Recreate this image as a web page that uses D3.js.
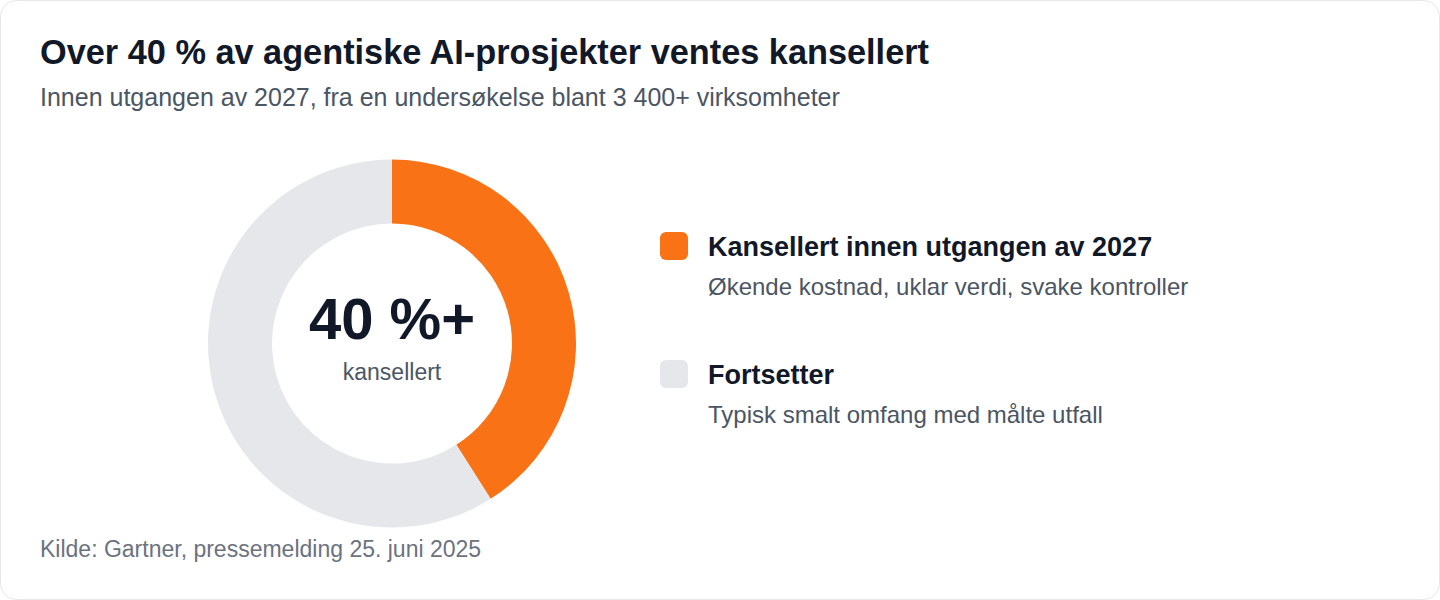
<!DOCTYPE html>
<html>
<head>
<meta charset="utf-8">
<script src="https://cdn.jsdelivr.net/npm/d3@7"></script>
<style>
  html, body { margin: 0; padding: 0; background: #ffffff; }
  svg { display: block; font-family: "Liberation Sans", Arial, Helvetica, sans-serif; }
</style>
</head>
<body>
<svg id="chart"></svg>
<script>
/* data */
var categories = ['Kansellert innen utgangen av 2027', 'Fortsetter'];
var shares = [41, 59];
var descriptions = ['Økende kostnad, uklar verdi, svake kontroller', 'Typisk smalt omfang med målte utfall'];
var centerValue = '40 %+';
var centerLabel = 'kansellert';

var titleText = 'Over 40 % av agentiske AI-prosjekter ventes kansellert';
var subtitleText = 'Innen utgangen av 2027, fra en undersøkelse blant 3 400+ virksomheter';
var sourceText = 'Kilde: Gartner, pressemelding 25. juni 2025';

/* layout */
var width = 1440;
var height = 600;
var cx = 392, cy = 343.5;
var outerR = 184, innerR = 120;

var svg = d3.select('#chart')
    .attr('width', width)
    .attr('height', height);

// card
svg.append('rect')
    .attr('x', 0.5).attr('y', 0.5)
    .attr('width', width - 1).attr('height', height - 1)
    .attr('rx', 16)
    .attr('fill', '#ffffff')
    .attr('stroke', '#e5e7eb')
    .attr('stroke-width', 1);

svg.append('text')
    .attr('x', 40).attr('y', 64)
    .attr('font-size', 34.3).attr('font-weight', 700)
    .attr('fill', '#111827')
    .text(titleText);

svg.append('text')
    .attr('x', 40).attr('y', 106)
    .attr('font-size', 25)
    .attr('fill', '#4b5563')
    .text(subtitleText);

var color = d3.scaleOrdinal()
    .domain(categories)
    .range(['#f97316', '#e5e7eb']);

var pie = d3.pie().sort(null).value(function(d){ return d.value; });
var arc = d3.arc().innerRadius(innerR).outerRadius(outerR);

var slices = categories.map(function(c, i){
    return { name: c, value: shares[i] };
});

var donut = svg.append('g')
    .attr('transform', 'translate(' + cx + ',' + cy + ')');

donut.selectAll('path')
    .data(pie(slices))
    .enter()
    .append('path')
    .attr('d', arc)
    .attr('fill', function(d){ return color(d.data.name); });

donut.append('text')
    .attr('x', 0).attr('y', -5)
    .attr('text-anchor', 'middle')
    .attr('font-size', 58).attr('font-weight', 700)
    .attr('fill', '#111827')
    .text(centerValue);

donut.append('text')
    .attr('x', 0).attr('y', 36.5)
    .attr('text-anchor', 'middle')
    .attr('font-size', 23)
    .attr('fill', '#4b5563')
    .text(centerLabel);

// legend
var legendY = d3.scalePoint()
    .domain(categories)
    .range([232, 360]);

var items = svg.selectAll('g.item')
    .data(categories)
    .enter()
    .append('g')
    .attr('class', 'item')
    .attr('transform', function(d){ return 'translate(660,' + legendY(d) + ')'; });

items.append('rect')
    .attr('width', 28).attr('height', 28)
    .attr('rx', 6)
    .attr('fill', function(d){ return color(d); });

items.append('text')
    .attr('x', 48).attr('y', 24)
    .attr('font-size', 27).attr('font-weight', 700)
    .attr('fill', '#111827')
    .text(function(d){ return d; });

items.append('text')
    .attr('x', 48).attr('y', 63)
    .attr('font-size', 24)
    .attr('fill', '#4b5563')
    .text(function(d, i){ return descriptions[i]; });

svg.append('text')
    .attr('x', 40).attr('y', 557)
    .attr('font-size', 23)
    .attr('fill', '#6b7280')
    .text(sourceText);
</script>
</body>
</html>
